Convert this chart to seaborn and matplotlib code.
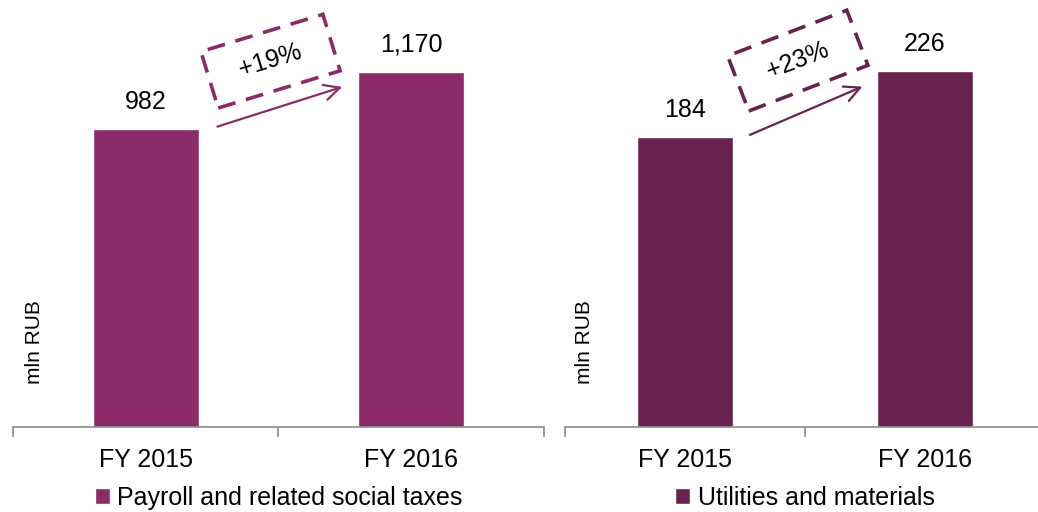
import numpy as np
import pandas as pd
import matplotlib
matplotlib.use("Agg")
import matplotlib.pyplot as plt
import seaborn as sns

categories = ["FY 2015", "FY 2016"]
payroll = [982, 1170]
utilities = [184, 226]
growth = ["+19%", "+23%"]
series_names = ["Payroll and related social taxes", "Utilities and materials"]

sns.set_style("white")
plt.rcParams["font.family"] = ["Liberation Sans", "DejaVu Sans"]
plt.rcParams["text.color"] = "black"
plt.rcParams["xtick.color"] = "black"

fig = plt.figure(figsize=(10.38, 5.12), dpi=100)
ax1 = fig.add_axes([0.0125, 0.166, 0.5116, 0.83])
ax2 = fig.add_axes([0.5443, 0.166, 0.4624, 0.83])

panels = [
    (ax1, payroll, "#8B2B67", 1400, series_names[0], growth[0], 17),
    (ax2, utilities, "#68224F", 270, series_names[1], growth[1], 21),
]

for ax, vals, col, top, name, g, rot in panels:
    df = pd.DataFrame({"period": categories, "value": vals})
    sns.barplot(data=df, x="period", y="value", color=col, width=0.4,
                saturation=1, ax=ax, label=name)
    ax.set_xlim(-0.5, 1.5)
    ax.set_ylim(0, top)
    ax.set_xlabel("")
    ax.set_ylabel("")
    ax.set_yticks([])
    for s in ["top", "left", "right"]:
        ax.spines[s].set_visible(False)
    ax.spines["bottom"].set_color("#8c8c8c")
    ax.spines["bottom"].set_linewidth(1.2)
    ax.set_xticks([-0.5, 0.5, 1.5], minor=True)
    ax.tick_params(axis="x", which="minor", length=7, width=1.2,
                   color="#8c8c8c", direction="out", bottom=True)
    ax.tick_params(axis="x", which="major", length=0, pad=15, labelsize=18,
                   labelcolor="black")

    ax.bar_label(ax.containers[0], labels=[f"{v:,}" for v in vals],
                 padding=11, fontsize=18, color="black")

    ax.text(0.04, 0.2, "mln RUB", transform=ax.transAxes, rotation=90,
            ha="center", va="center", fontsize=15)

    ax.annotate("", xy=(0.75, vals[1] * 0.96), xytext=(0.26, vals[0] * 1.005),
                arrowprops=dict(arrowstyle="->", color=col, lw=1.6,
                                mutation_scale=28))
    ax.text(0.47, vals[1] * 1.03, "  " + g + "  ", rotation=rot,
            ha="center", va="center", fontsize=18,
            bbox=dict(boxstyle="square,pad=0.7", fc="white", ec=col,
                      lw=2.6, ls=(0, (5, 3))))

    ax.legend(loc="upper center", bbox_to_anchor=(0.5, -0.138), frameon=False,
              fontsize=18, handlelength=0.6, handleheight=0.6,
              handletextpad=0.3, borderaxespad=0, borderpad=0)

fig.savefig("out.png", dpi=100)
